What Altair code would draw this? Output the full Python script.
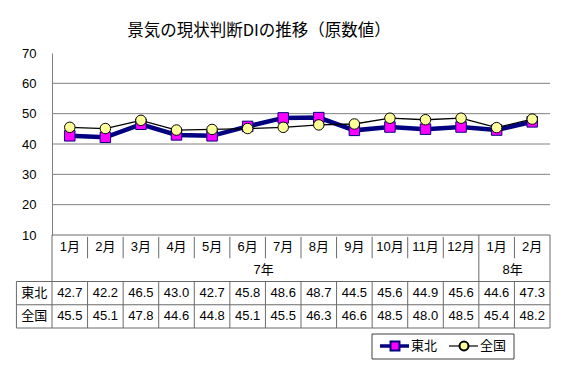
import altair as alt
import pandas as pd

title_text = "景気の現状判断DIの推移（原数値）"
months = ["1月", "2月", "3月", "4月", "5月", "6月", "7月", "8月", "9月", "10月", "11月", "12月", "1月", "2月"]
years = ["7年", "8年"]
year_span = [12, 2]
series_names = ["東北", "全国"]
tohoku = [42.7, 42.2, 46.5, 43.0, 42.7, 45.8, 48.6, 48.7, 44.5, 45.6, 44.9, 45.6, 44.6, 47.3]
zenkoku = [45.5, 45.1, 47.8, 44.6, 44.8, 45.1, 45.5, 46.3, 46.6, 48.5, 48.0, 48.5, 45.4, 48.2]
y_ticks = [10, 20, 30, 40, 50, 60, 70]
grid_vals = [20, 30, 40, 50, 60]

FONT = "Liberation Sans, Noto Sans CJK JP"
JFONT = "Noto Sans CJK JP"
GRAY = "#808080"
TGRAY = "#6a6a6a"
NAVY = "#000080"
MAGENTA = "#FF00FF"
YELLOW = "#FFFF99"

n = len(months)
W = 498
H_PLOT = 182
H_TAB = 93

df = pd.DataFrame({"i": list(range(n)), "month": months, "tohoku": tohoku, "zenkoku": zenkoku})
df["xc"] = df["i"] + 0.5

xs = alt.Scale(domain=[0, n], nice=False, zero=False)
ys = alt.Scale(domain=[10, 70], nice=False, zero=False)


def yax():
    return alt.Axis(
        values=y_ticks, title=None, ticks=False, tickSize=0, labelPadding=16,
        labelOverlap=False, labelFlush=False, labelBound=False,
        domainColor=GRAY, domainWidth=1, grid=False,
        labelFont=FONT, labelFontSize=13, labelColor="#000000")


grid = alt.Chart(pd.DataFrame({"g": grid_vals})).mark_rule(color=GRAY, strokeWidth=1).encode(
    y=alt.Y("g:Q", scale=ys, axis=yax()))

line_t = alt.Chart(df).mark_line(color=NAVY, strokeWidth=4.5).encode(
    x=alt.X("xc:Q", scale=xs, axis=None), y=alt.Y("tohoku:Q", scale=ys, axis=yax()))
line_z = alt.Chart(df).mark_line(color="#000000", strokeWidth=1.3).encode(
    x=alt.X("xc:Q", scale=xs, axis=None), y=alt.Y("zenkoku:Q", scale=ys, axis=yax()))
pts_t = alt.Chart(df).mark_point(shape="square", filled=True, fill=MAGENTA, stroke=NAVY,
                                 strokeWidth=1, size=110, opacity=1).encode(
    x=alt.X("xc:Q", scale=xs, axis=None), y=alt.Y("tohoku:Q", scale=ys, axis=yax()))
pts_z = alt.Chart(df).mark_point(shape="circle", filled=True, fill=YELLOW, stroke="#000000",
                                 strokeWidth=1, size=110, opacity=1).encode(
    x=alt.X("xc:Q", scale=xs, axis=None), y=alt.Y("zenkoku:Q", scale=ys, axis=yax()))

title = alt.Chart(pd.DataFrame({"t": [title_text]})).mark_text(
    font=JFONT, fontSize=16.5, color="#000000", align="center", baseline="middle").encode(
    text="t:N", x=alt.value(207), y=alt.value(-22))

top = alt.layer(grid, line_t, line_z, pts_t, pts_z, title).properties(width=W, height=H_PLOT)

# ---- table ----
cells = []
for i, m in enumerate(months):
    cells.append({"x": i + 0.5, "r": 0.5, "t": m})
start = 0
for yname, span in zip(years, year_span):
    cells.append({"x": start + span / 2.0 - 0.05, "r": 1.5, "t": yname})
    start += span
for row, (name, vals) in enumerate(zip(series_names, [tohoku, zenkoku])):
    cells.append({"x": -0.5, "r": 2.5 + row, "t": name})
    for i, v in enumerate(vals):
        cells.append({"x": i + 0.5, "r": 2.5 + row, "t": f"{v:.1f}"})
cells_df = pd.DataFrame(cells)

# table border segments derived from the column / group structure
segs = []
segs.append({"x": 0, "x2": n, "y": 0, "y2": 0})
for r in [2, 3, 4]:
    segs.append({"x": -1, "x2": n, "y": r, "y2": r})
segs.append({"x": -1, "x2": -1, "y": 2, "y2": 4})
group_edges = [0]
for span in year_span:
    group_edges.append(group_edges[-1] + span)
for b in range(0, n + 1):
    if b in group_edges:
        segs.append({"x": b, "x2": b, "y": 0, "y2": 4})
    else:
        segs.append({"x": b, "x2": b, "y": 0.08, "y2": 1})
        segs.append({"x": b, "x2": b, "y": 2, "y2": 4})
segs_df = pd.DataFrame(segs)

tys = alt.Scale(domain=[0, 4], nice=False, zero=False, reverse=True)

tab_rules = alt.Chart(segs_df).mark_rule(color=TGRAY, strokeWidth=1).encode(
    x=alt.X("x:Q", scale=xs, axis=None), x2="x2:Q",
    y=alt.Y("y:Q", scale=tys, axis=None), y2="y2:Q")
tab_text = alt.Chart(cells_df).mark_text(font=FONT, fontSize=13, color="#000000",
                                         align="center", baseline="middle").encode(
    x=alt.X("x:Q", scale=xs, axis=None), y=alt.Y("r:Q", scale=tys, axis=None), text="t:N")

# legend (custom, below the table)
leg_df = pd.DataFrame({"name": series_names})
leg_box = alt.Chart(pd.DataFrame({"a": [0]})).mark_rect(fill="#ffffff", stroke="#404040", strokeWidth=1).encode(
    x=alt.value(320), x2=alt.value(462), y=alt.value(99), y2=alt.value(124))
leg_l1 = alt.Chart(leg_df.iloc[[0]]).mark_rule(color=NAVY, strokeWidth=3.5).encode(
    x=alt.value(328), x2=alt.value(357), y=alt.value(111))
leg_p1 = alt.Chart(leg_df.iloc[[0]]).mark_point(shape="square", filled=True, fill=MAGENTA, stroke=NAVY,
                                               size=80, opacity=1).encode(x=alt.value(343), y=alt.value(111))
leg_t1 = alt.Chart(leg_df.iloc[[0]]).mark_text(font=JFONT, fontSize=13, align="left", baseline="middle").encode(
    x=alt.value(359), y=alt.value(111), text="name:N")
leg_l2 = alt.Chart(leg_df.iloc[[1]]).mark_rule(color="#000000", strokeWidth=1.2).encode(
    x=alt.value(397), x2=alt.value(426), y=alt.value(111))
leg_p2 = alt.Chart(leg_df.iloc[[1]]).mark_point(shape="circle", filled=True, fill=YELLOW, stroke="#000000",
                                               size=80, opacity=1).encode(x=alt.value(412), y=alt.value(111))
leg_t2 = alt.Chart(leg_df.iloc[[1]]).mark_text(font=JFONT, fontSize=13, align="left", baseline="middle").encode(
    x=alt.value(428), y=alt.value(111), text="name:N")

table = alt.layer(tab_rules, tab_text, leg_box, leg_l1, leg_p1, leg_t1, leg_l2, leg_p2, leg_t2).properties(
    width=W, height=H_TAB)

chart = alt.vconcat(top, table, spacing=0, bounds="flush").properties(
    padding={"left": 7, "top": 15, "right": 5, "bottom": 5}
).configure_view(strokeWidth=0)

chart.save("out.html", embed_options={"renderer": "svg", "actions": False})
